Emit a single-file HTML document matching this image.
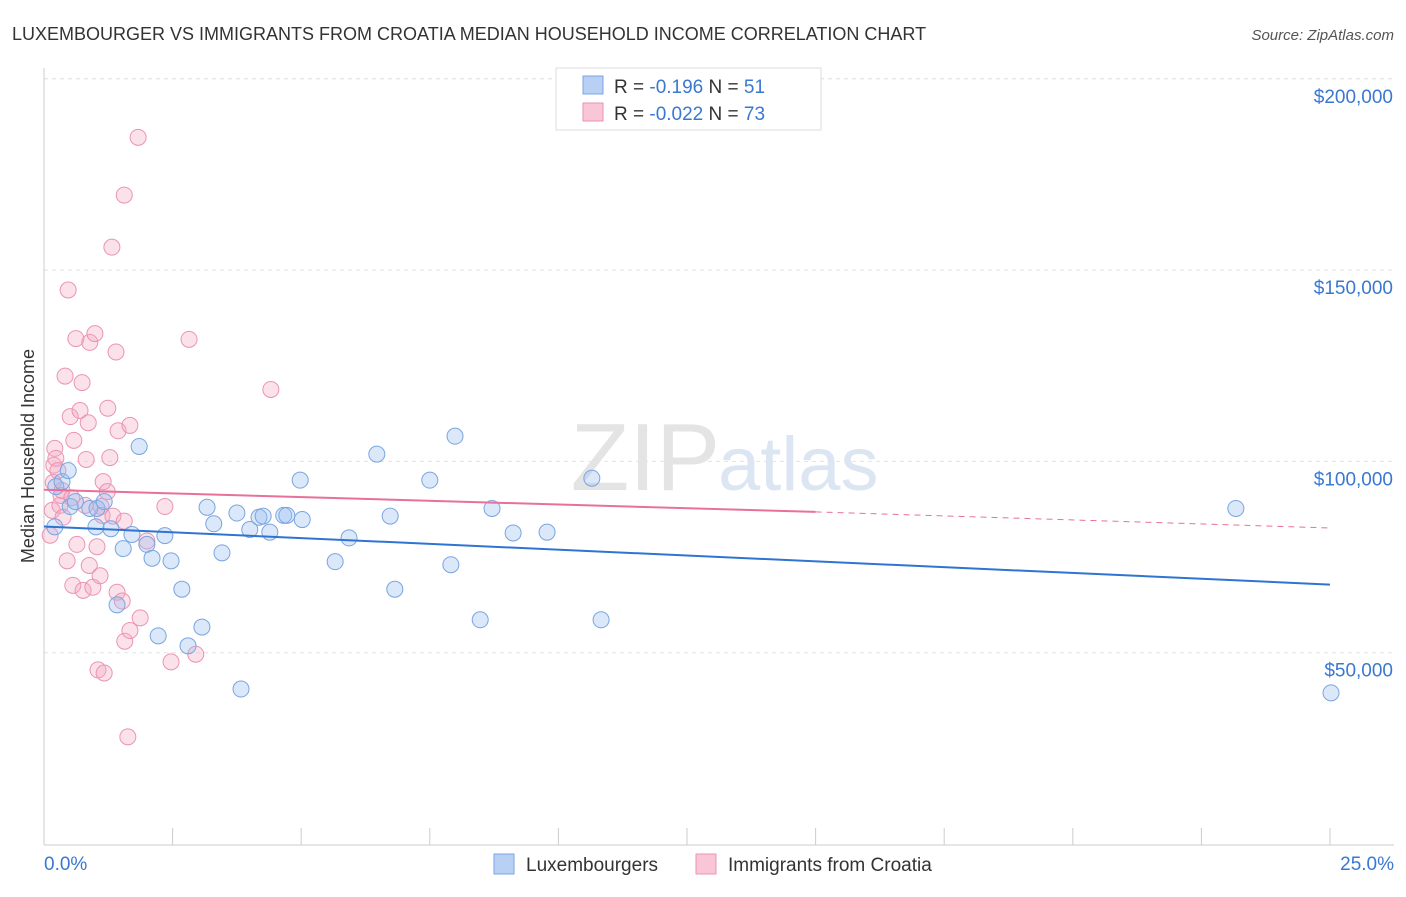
<!DOCTYPE html>
<html><head><meta charset="utf-8"><style>
body{margin:0;background:#fff;font-family:"Liberation Sans",sans-serif}
svg text{font-family:"Liberation Sans",sans-serif}
</style></head><body>
<svg id="c" width="1406" height="892">
<text x="12" y="40" font-size="18" fill="#333">LUXEMBOURGER VS IMMIGRANTS FROM CROATIA MEDIAN HOUSEHOLD INCOME CORRELATION CHART</text>
<text x="1394" y="40" font-size="15" fill="#555" font-style="italic" text-anchor="end">Source: ZipAtlas.com</text>
<text x="720" y="490" font-size="96" fill="#e4e4e4" font-family="Liberation Serif" text-anchor="end">ZIP</text>
<text x="718" y="490" font-size="76" fill="#dce6f2">atlas</text>
<text transform="translate(34,456) rotate(-90)" font-size="18" fill="#333" text-anchor="middle">Median Household Income</text>
<g id="grid"></g><g id="pts"></g><g id="lines"></g>
<g>
<rect x="556" y="68" width="265" height="62" fill="#fff" stroke="#ddd"/>
<rect x="583" y="76" width="20" height="18" fill="#b8d0f4" stroke="#7aa5e0"/>
<rect x="583" y="103" width="20" height="18" fill="#f8c6d6" stroke="#eb94b2"/>
<text x="614" y="93" font-size="19" fill="#333">R = <tspan fill="#3a78d0"> -0.196</tspan>   N = <tspan fill="#3a78d0"> 51</tspan></text>
<text x="614" y="120" font-size="19" fill="#333">R = <tspan fill="#3a78d0">-0.022</tspan>   N = <tspan fill="#3a78d0">73</tspan></text>
</g>
<g>
<rect x="494" y="854" width="20" height="20" fill="#b8d0f4" stroke="#7aa5e0"/>
<text x="526" y="871" font-size="19" fill="#333">Luxembourgers</text>
<rect x="696" y="854" width="20" height="20" fill="#f8c6d6" stroke="#eb94b2"/>
<text x="728" y="871" font-size="19" fill="#333">Immigrants from Croatia</text>
</g>
</svg>
<script>
const xTicks=[0,2.5,5,7.5,10,12.5,15,17.5,20,22.5,25];
const yTicks=[50000,100000,150000,200000];
const yTickLabels=["$50,000","$100,000","$150,000","$200,000"];
const luxX=[0.21,0.23,0.35,0.47,0.51,0.61,0.89,1.01,1.03,1.17,1.3,1.42,1.54,1.71,1.85,2.0,2.1,2.22,2.35,2.47,2.68,2.8,3.07,3.17,3.3,3.46,3.75,3.83,4.0,4.18,4.26,4.39,4.66,4.72,4.98,5.02,5.66,5.93,6.47,6.73,6.82,7.5,7.91,7.99,8.48,8.71,9.12,9.78,10.65,10.83,23.17,25.02];
const luxY=[82.9,93.4,94.7,97.6,88.2,89.5,87.7,82.9,87.7,89.5,82.4,62.5,77.2,80.9,103.9,78.3,74.7,54.4,80.6,74.0,66.6,51.8,56.7,88.0,83.7,76.1,86.5,40.5,82.2,85.4,85.7,81.5,85.9,85.9,95.1,84.8,73.8,80.0,101.9,85.7,66.6,95.1,73.0,106.6,58.6,87.7,81.3,81.5,95.6,58.6,87.7,39.5];
const croX=[0.12,0.16,0.18,0.19,0.21,0.23,0.27,0.31,0.33,0.35,0.37,0.41,0.45,0.47,0.51,0.54,0.56,0.58,0.62,0.64,0.7,0.74,0.76,0.8,0.82,0.86,0.88,0.89,0.95,0.99,1.03,1.05,1.09,1.11,1.13,1.15,1.17,1.23,1.24,1.28,1.32,1.34,1.4,1.42,1.44,1.52,1.56,1.56,1.57,1.63,1.67,1.67,1.83,1.87,2.0,2.35,2.47,2.82,2.95,4.41,7.46,10.32];
const croY=[80.7,87.2,94.5,99.0,103.4,100.8,97.6,88.5,91.1,92.4,85.4,122.3,74.0,144.8,111.7,90.5,67.6,105.5,132.1,78.3,113.3,120.6,66.3,88.5,100.5,110.1,72.8,131.1,67.1,133.4,77.7,45.5,70.1,88.2,85.9,94.7,44.7,92.1,113.9,101.0,156.0,85.7,128.6,65.8,108.0,63.5,84.4,169.6,53.0,28.0,55.8,109.4,184.7,59.1,79.2,88.2,47.6,131.9,49.6,118.8];
const croXfix=croX.slice(0,croY.length);
const X=v=>44+v/25*1286, Y=v=>844-v/50000*191.3;
const ns="http://www.w3.org/2000/svg";
function mk(tag,attrs,parent,txt){const e=document.createElementNS(ns,tag);for(const k in attrs)e.setAttribute(k,attrs[k]);if(txt!==undefined)e.textContent=txt;parent.appendChild(e);return e;}
const g=document.getElementById('grid'),p=document.getElementById('pts'),l=document.getElementById('lines');
mk('line',{x1:44,y1:Y(200000),x2:1394,y2:Y(200000),stroke:'#e4e4e4','stroke-dasharray':'4,4'},g);
yTicks.forEach((t,i)=>{
 const ln=mk('line',{x1:44,y1:Y(t),x2:1394,y2:Y(t),stroke:'#e4e4e4','stroke-dasharray':'4,4'},g);
 
 
 const tx=mk('text',{x:1393,y:Y(t)+24,'font-size':19,fill:'#3a78d0','text-anchor':'end'},g,yTickLabels[i]);
 
 
});
mk('line',{x1:44,y1:68,x2:44,y2:845,stroke:'#ccc'},g);
mk('line',{x1:44,y1:845,x2:1394,y2:845,stroke:'#ccc'},g);
xTicks.forEach(t=>{const e=mk('line',{x1:X(t),y1:828,x2:X(t),y2:845,stroke:'#ccc'},g);
 
 });
const xl0=mk('text',{x:44,y:870,'font-size':19,fill:'#3a78d0'},g,'0.0%');


const xl1=mk('text',{x:1394,y:870,'font-size':19,fill:'#3a78d0','text-anchor':'end'},g,'25.0%');


croY.forEach((v,i)=>{const c=mk('circle',{cx:X(croXfix[i]),cy:Y(v*1000),r:8,fill:'rgba(244,170,196,0.35)',stroke:'#eb94b2','stroke-width':1},p);
 
 });
luxY.forEach((v,i)=>{const c=mk('circle',{cx:X(luxX[i]),cy:Y(v*1000),r:8,fill:'rgba(150,190,240,0.35)',stroke:'#7aa5e0','stroke-width':1},p);
 
 });
const luxTrend=[83000,67800], croTrend=[92600,86800,82600];
const t1=mk('line',{x1:X(0),y1:Y(luxTrend[0]),x2:X(25),y2:Y(luxTrend[1]),stroke:'#2f74d0','stroke-width':2},l);


const t2=mk('line',{x1:X(0),y1:Y(croTrend[0]),x2:X(15),y2:Y(croTrend[1]),stroke:'#e8709a','stroke-width':2},l);


const t3=mk('line',{x1:X(15),y1:Y(croTrend[1]),x2:X(25),y2:Y(croTrend[2]),stroke:'#e8709a','stroke-width':1,'stroke-dasharray':'6,5'},l);


</script>
</body></html>
